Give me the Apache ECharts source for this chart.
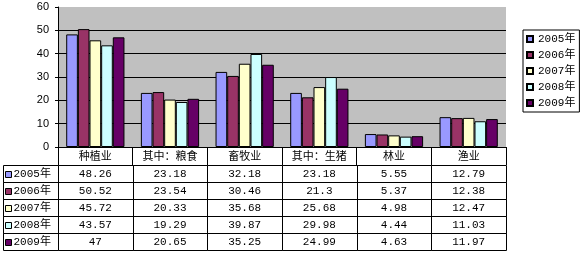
<!DOCTYPE html>
<html>
<head>
<meta charset="utf-8">
<script src="https://cdn.jsdelivr.net/npm/echarts@6/dist/echarts.min.js"></script>
<style>html,body{margin:0;padding:0;background:#fff}#c{width:580px;height:255px}</style>
</head>
<body>
<div id="c"></div>
<script>
const categories = ['种植业', '其中：粮食', '畜牧业', '其中：生猪', '林业', '渔业'];
const years = ['2005年', '2006年', '2007年', '2008年', '2009年'];
const v2005 = [48.26, 23.18, 32.18, 23.18, 5.55, 12.79];
const v2006 = [50.52, 23.54, 30.46, 21.3, 5.37, 12.38];
const v2007 = [45.72, 20.33, 35.68, 25.68, 4.98, 12.47];
const v2008 = [43.57, 19.29, 39.87, 29.98, 4.44, 11.03];
const v2009 = [47, 20.65, 35.25, 24.99, 4.63, 11.97];
const yTicks = [0, 10, 20, 30, 40, 50, 60];
const colors = ['#9999FF', '#993366', '#FFFFCC', '#CCFFFF', '#660066'];

const seriesValues = [v2005, v2006, v2007, v2008, v2009];
const CJK = '"Noto Sans CJK SC"';
const MONO = '"Liberation Mono", "Noto Sans CJK SC"';

const cellData = [];
seriesValues.forEach((arr, r) => arr.forEach((v, c) => cellData.push([c, r, v])));
const rowData = years.map((y, r) => [0, r]);

function crisp(v) { return Math.round(v) + 0.5; }

function renderCell(params, api) {
  const c = api.coord([api.value(0), api.value(1)]);
  const s = api.size([1, 1]);
  const x0 = crisp(c[0] - s[0] / 2), x1 = crisp(c[0] + s[0] / 2);
  const y0 = crisp(c[1] - s[1] / 2), y1 = crisp(c[1] + s[1] / 2);
  return {
    type: 'group',
    children: [
      { type: 'rect', shape: { x: x0, y: y0, width: x1 - x0, height: y1 - y0 },
        style: { fill: 'none', stroke: '#000', lineWidth: 1 } },
      { type: 'text', x: c[0], y: c[1] + 0.5,
        style: { text: String(api.value(2)), align: 'center', verticalAlign: 'middle',
                 font: '11px ' + MONO, fill: '#000' } }
    ]
  };
}

function renderRow(params, api) {
  const r = api.value(1);
  const c = api.coord([0, r]);
  const s = api.size([1, 1]);
  const right = crisp(params.coordSys.x);
  const left = right - 55;
  const y0 = crisp(c[1] - s[1] / 2), y1 = crisp(c[1] + s[1] / 2);
  return {
    type: 'group',
    children: [
      { type: 'rect', shape: { x: left, y: y0, width: right - left, height: y1 - y0 },
        style: { fill: 'none', stroke: '#000', lineWidth: 1 } },
      { type: 'rect', shape: { x: left + 2, y: Math.round(c[1]) - 3 + 0.5, width: 6, height: 6 },
        style: { fill: colors[r], stroke: '#000', lineWidth: 1 } },
      { type: 'text', x: left + 10, y: c[1] + 0.5,
        style: { text: years[r], align: 'left', verticalAlign: 'middle',
                 font: '11px ' + MONO, fill: '#000' } }
    ]
  };
}

const chart = echarts.init(document.getElementById('c'), null, { renderer: 'canvas' });
chart.setOption({
  animation: false,
  backgroundColor: '#fff',
  grid: [
    { left: 58, right: 74, top: 7, bottom: 108, show: true, backgroundColor: '#C0C0C0', borderWidth: 0 },
    { left: 58, right: 74, top: 165, bottom: 5 }
  ],
  legend: {
    data: years, orient: 'vertical', left: 523, top: 30,
    itemWidth: 6, itemHeight: 6, itemGap: 2,
    padding: [2, 4, 2, 3],
    borderColor: '#000', borderWidth: 1, backgroundColor: '#fff',
    textStyle: { fontSize: 11, fontFamily: MONO, color: '#000', lineHeight: 14 },
    icon: 'rect'
  },
  xAxis: [
    { type: 'category', gridIndex: 0, data: categories,
      axisLine: { lineStyle: { color: '#000', width: 1 } },
      axisTick: { show: true, length: 18, lineStyle: { color: '#000' } },
      axisLabel: { color: '#000', fontSize: 11, fontFamily: CJK, margin: 3, interval: 0 },
      splitLine: { show: false } },
    { type: 'category', gridIndex: 1, data: categories, show: false }
  ],
  yAxis: [
    { type: 'value', gridIndex: 0, min: yTicks[0], max: yTicks[yTicks.length - 1], interval: 10,
      axisLine: { show: true, lineStyle: { color: '#000' } },
      axisTick: { show: true, length: 3, lineStyle: { color: '#000' } },
      axisLabel: { color: '#000', fontSize: 11, fontFamily: '"Liberation Sans"', margin: 9 },
      splitLine: { show: true, showMaxLine: false, lineStyle: { color: '#000', width: 1 } } },
    { type: 'category', gridIndex: 1, data: years, inverse: true, show: false }
  ],
  series: seriesValues.map((vals, i) => ({
    name: years[i], type: 'bar', xAxisIndex: 0, yAxisIndex: 0, data: vals,
    barGap: '0%', barCategoryGap: '22%',
    itemStyle: { color: colors[i], borderColor: '#000', borderWidth: 1 }
  })).concat([
    { type: 'custom', name: 'cells', xAxisIndex: 1, yAxisIndex: 1, data: cellData,
      renderItem: renderCell, silent: true },
    { type: 'custom', name: 'rows', xAxisIndex: 1, yAxisIndex: 1, data: rowData,
      renderItem: renderRow, silent: true }
  ])
});
</script>
</body>
</html>
